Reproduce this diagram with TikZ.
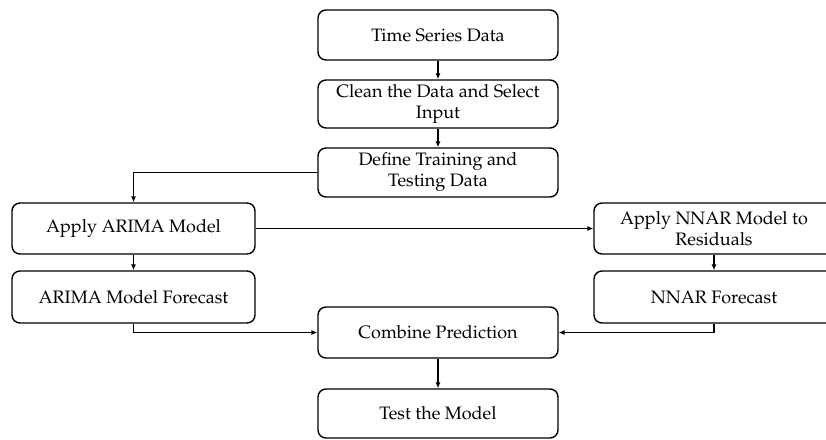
\documentclass[tikz,border=0pt]{standalone}
\usepackage[T1]{fontenc}
\usepackage{mathpazo}
\usetikzlibrary{arrows.meta}
\begin{document}
\begin{tikzpicture}[x=1pt,y=-1pt,
  box/.style={draw, line width=1.4pt, rounded corners=8pt, align=center, inner sep=0pt,
    font=\fontsize{18}{21}\selectfont},
  conn/.style={line width=1.1pt, -{Latex[length=6pt,width=5pt]}}]
\useasboundingbox (0,0) rectangle (826,439);
\node[box, minimum width=240pt, minimum height=50pt] (ts) at (438,35) {Time Series Data};
\node[box, minimum width=240pt, minimum height=48pt] (clean) at (438,104) {Clean the Data and Select\\Input};
\node[box, minimum width=240pt, minimum height=49pt] (def) at (438,172.5) {Define Training and\\Testing Data};
\node[box, minimum width=243pt, minimum height=51pt] (arima) at (133.5,228.5) {Apply ARIMA Model};
\node[box, minimum width=243pt, minimum height=52pt] (af) at (133.5,297) {ARIMA Model Forecast};
\node[box, minimum width=240pt, minimum height=51pt] (nnar) at (714,228.5) {Apply NNAR Model to\\Residuals};
\node[box, minimum width=240pt, minimum height=52pt] (nf) at (714,297) {NNAR Forecast};
\node[box, minimum width=240pt, minimum height=51pt] (comb) at (438,332.5) {Combine Prediction};
\node[box, minimum width=240pt, minimum height=49pt] (test) at (438,413.5) {Test the Model};
\draw[conn] (ts) -- (clean);
\draw[conn] (clean) -- (def);
\draw[conn] (def.west) -| (arima.north);
\draw[conn] (arima) -- (nnar);
\draw[conn] (arima) -- (af);
\draw[conn] (nnar) -- (nf);
\draw[conn] (af.south) |- (comb.west);
\draw[conn] (nf.south) |- (comb.east);
\draw[conn] (comb) -- (test);
\end{tikzpicture}
\end{document}
